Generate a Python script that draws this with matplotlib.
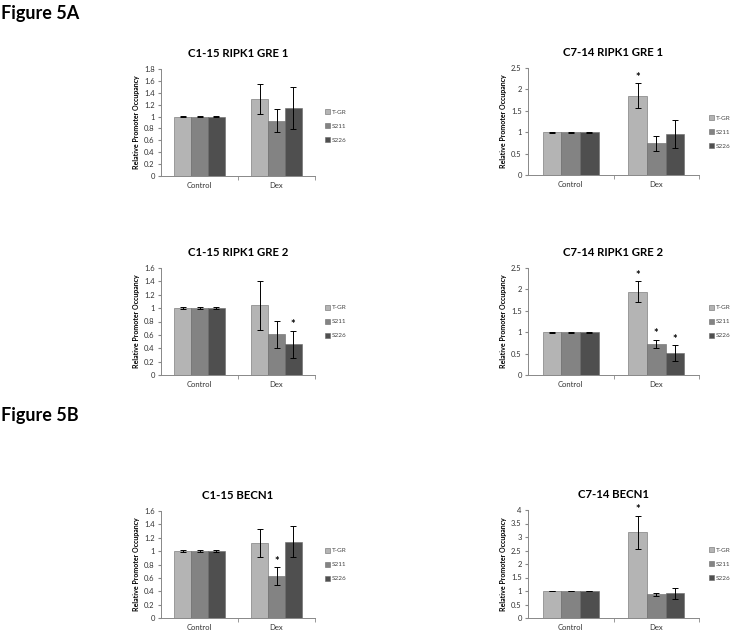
import numpy as np
import matplotlib.pyplot as plt

plt.rcParams['font.family'] = ['Lato', 'DejaVu Sans']

groups = ['Control', 'Dex']
series = ['T-GR', 'S211', 'S226']
colors = ['#b4b4b4', '#838383', '#4f4f4f']

titles = ['C1-15 RIPK1 GRE 1', 'C7-14 RIPK1 GRE 1',
          'C1-15 RIPK1 GRE 2', 'C7-14 RIPK1 GRE 2',
          'C1-15 BECN1', 'C7-14 BECN1']

# values per panel: [series][group]
vals = [
    [[1.0, 1.29], [1.0, 0.93], [1.0, 1.14]],
    [[1.0, 1.85], [1.0, 0.74], [1.0, 0.96]],
    [[1.0, 1.04], [1.0, 0.61], [1.0, 0.46]],
    [[1.0, 1.95], [1.0, 0.72], [1.0, 0.51]],
    [[1.0, 1.12], [1.0, 0.63], [1.0, 1.14]],
    [[1.0, 3.17], [1.0, 0.88], [1.0, 0.92]],
]
errs = [
    [[0.01, 0.25], [0.01, 0.19], [0.01, 0.35]],
    [[0.01, 0.29], [0.01, 0.18], [0.01, 0.33]],
    [[0.01, 0.37], [0.01, 0.20], [0.01, 0.20]],
    [[0.01, 0.24], [0.01, 0.10], [0.01, 0.19]],
    [[0.01, 0.21], [0.01, 0.13], [0.01, 0.23]],
    [[0.01, 0.62], [0.01, 0.06], [0.01, 0.20]],
]
# significance stars (series index on Dex)
stars = [[], [0], [2], [0, 1, 2], [1], [0]]

ymax = [1.8, 2.5, 1.6, 2.5, 1.6, 4.0]
ystep = [0.2, 0.5, 0.2, 0.5, 0.2, 0.5]

fig = plt.figure(figsize=(7.33, 6.31), dpi=100)

W, H = 733.0, 631.0
# axes boxes in pixels: left, top, right, bottom
boxes = [
    (161, 69, 315, 176), (528, 68, 699, 175),
    (161, 268, 315, 375), (528, 268, 699, 375),
    (161, 511, 315, 618), (528, 510, 699, 618),
]
leg_y = [0.47, 0.40, 0.50, 0.50, 0.50, 0.50]

x = np.arange(len(groups))
bw = 0.217

for i in range(6):
    l, t, r, b = boxes[i]
    ax = fig.add_axes([l / W, 1 - b / H, (r - l) / W, (b - t) / H])
    for j in range(3):
        ax.bar(x + (j - 1) * bw, vals[i][j], bw, color=colors[j],
               edgecolor='#6a6a6a', linewidth=0.4, label=series[j],
               yerr=errs[i][j], error_kw=dict(ecolor='black', elinewidth=0.7,
                                             capsize=2, capthick=0.7))
    for j in stars[i]:
        top = vals[i][j][1] + errs[i][j][1]
        ax.text(x[1] + (j - 1) * bw, top + ymax[i] * 0.005, '*',
                ha='center', va='bottom', fontsize=8, fontweight='bold')
    ax.set_xlim(-0.5, 1.5)
    ax.set_ylim(0, ymax[i])
    ticks = np.arange(0, ymax[i] + 1e-9, ystep[i])
    ax.set_yticks(ticks)
    ax.set_yticklabels(['%g' % v for v in ticks])
    ax.set_xticks(x)
    ax.set_xticklabels(groups)
    ax.set_xticks([0.5, 1.5], minor=True)
    ax.tick_params(axis='x', which='major', length=0, labelsize=5.5, pad=4,
                   labelcolor='#333333')
    ax.tick_params(axis='x', which='minor', length=3, color='#888888')
    ax.tick_params(axis='y', labelsize=5.5, length=2.5, color='#888888', pad=2,
                   labelcolor='#333333')
    for s in ['top', 'right']:
        ax.spines[s].set_visible(False)
    for s in ['left', 'bottom']:
        ax.spines[s].set_color('#888888')
        ax.spines[s].set_linewidth(0.7)
    ax.set_title(titles[i], fontsize=8.2, fontweight='bold', pad=8.5)
    ax.set_ylabel('Relative Promoter Occupancy', fontsize=5, fontweight='bold',
                  labelpad=3)
    leg = ax.legend(loc='center left',
                    bbox_to_anchor=(1 + 10.0 / (r - l), leg_y[i]),
                    frameon=False, fontsize=4.6, handlelength=0.8,
                    handleheight=0.8, handletextpad=0.2, labelspacing=1.3,
                    borderpad=0, borderaxespad=0)
    for txt in leg.get_texts():
        txt.set_color('#444444')

fig.text(0.002, 1 - 14 / H, 'Figure 5A', fontsize=13, fontweight='bold',
         va='center', ha='left')
fig.text(0.002, 1 - 416 / H, 'Figure 5B', fontsize=13, fontweight='bold',
         va='center', ha='left')

plt.savefig('out.png', dpi=100)
